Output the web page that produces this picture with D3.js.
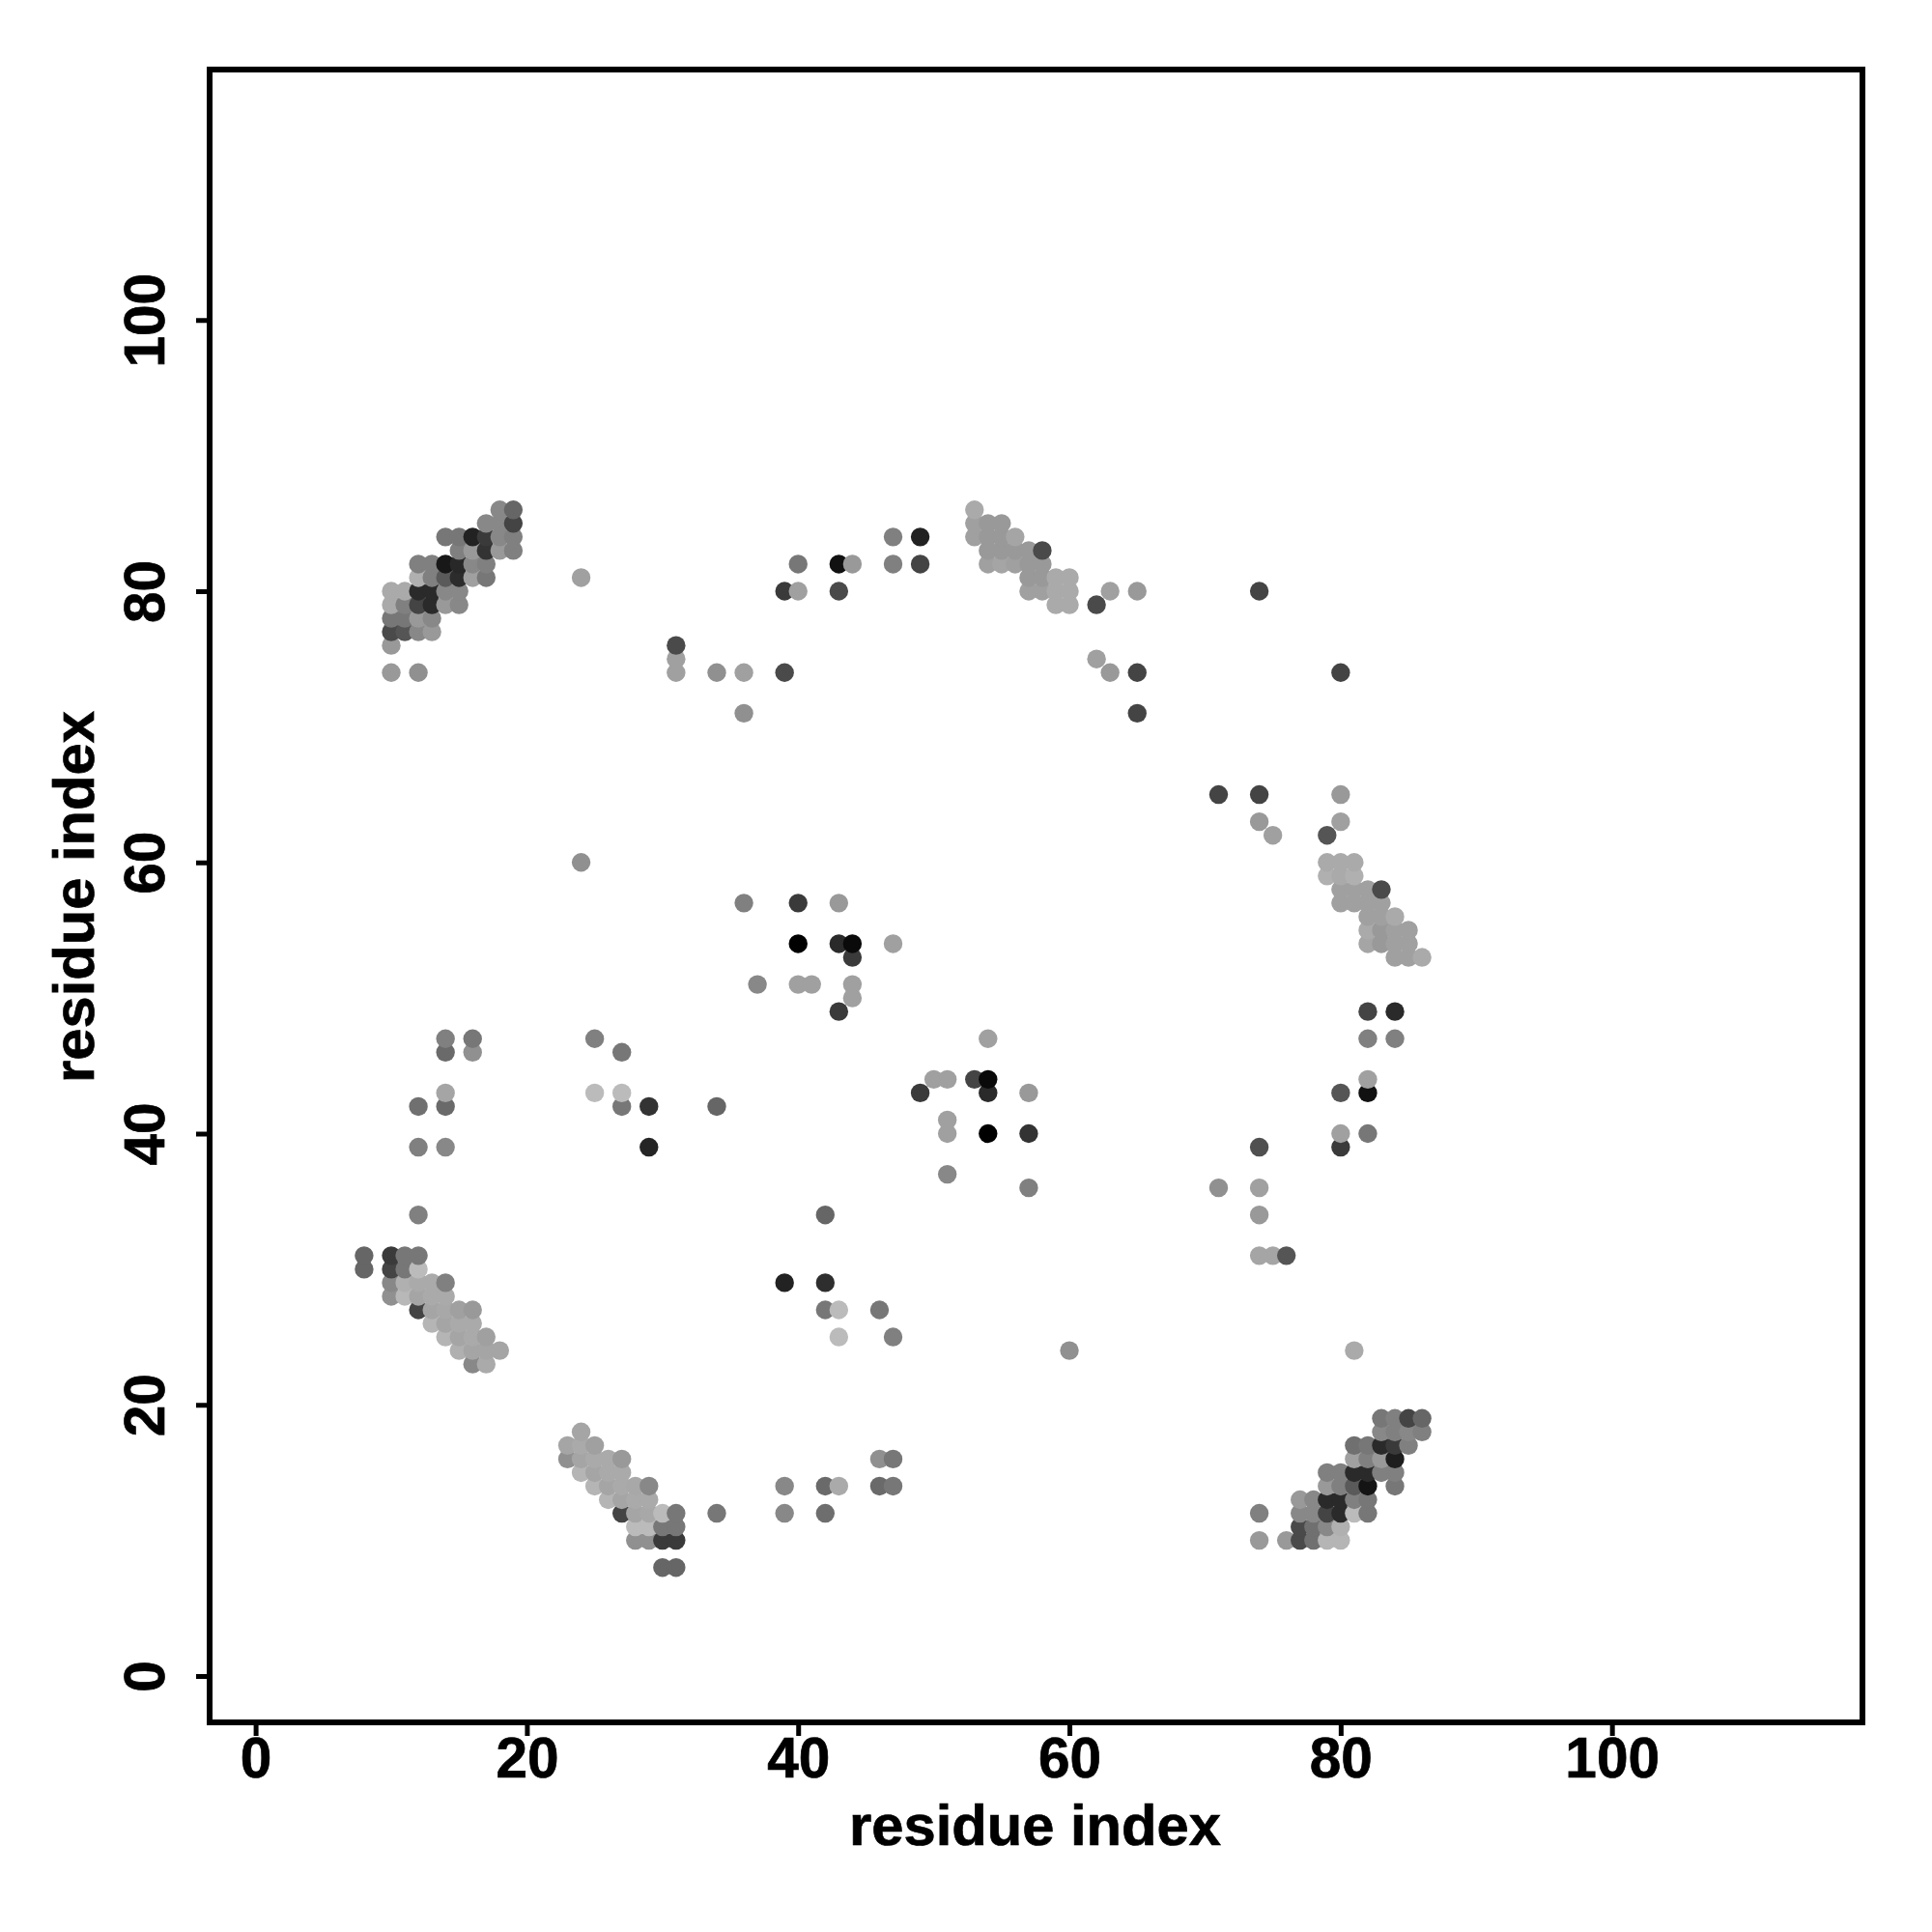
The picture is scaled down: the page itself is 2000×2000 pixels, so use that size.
<!DOCTYPE html>
<html><head><meta charset="utf-8"><script src="https://cdn.jsdelivr.net/npm/d3@7"></script>
<style>html,body{margin:0;padding:0;background:#fff}</style></head><body><script>
// Each contact: [residue i, residue j, shade level (0 black .. 255 white)]
const clusterTopLeft=[[18,86,136],[19,86,102],[17,85,136],[18,85,136],[19,85,68],[14,84,119],[15,84,119],[16,84,34],[17,84,58],[18,84,136],[19,84,128],[15,83,128],[16,83,153],[17,83,51],[18,83,153],[19,83,128],[12,82,128],[13,82,128],[14,82,24],[15,82,40],[16,82,136],[17,82,128],[12,81,176],[13,81,128],[14,81,90],[15,81,44],[16,81,160],[17,81,119],[10,80,170],[11,80,170],[12,80,42],[13,80,42],[14,80,136],[15,80,136],[10,79,170],[11,79,128],[12,79,68],[13,79,42],[14,79,153],[15,79,136],[10,78,119],[11,78,119],[12,78,153],[13,78,136],[10,77,74],[11,77,85],[12,77,136],[13,77,153],[10,76,153],[10,74,153],[12,74,144]];
const clusterBottomRight=[[83,19,119],[84,19,128],[85,19,68],[86,19,102],[83,18,136],[84,18,128],[85,18,136],[86,18,128],[81,17,112],[82,17,119],[83,17,42],[84,17,58],[85,17,128],[81,16,160],[82,16,128],[83,16,153],[84,16,30],[79,15,128],[80,15,128],[81,15,42],[82,15,42],[83,15,128],[84,15,128],[79,14,153],[80,14,128],[81,14,90],[82,14,20],[84,14,119],[77,13,153],[78,13,136],[79,13,42],[80,13,42],[81,13,128],[82,13,119],[77,12,136],[78,12,136],[79,12,68],[80,12,42],[81,12,187],[82,12,119],[77,11,74],[78,11,112],[79,11,136],[80,11,176],[76,10,153],[77,10,74],[78,10,112],[79,10,181],[80,10,181],[74,12,128],[74,10,153]];
const clusterLowerLeft=[[8,31,102],[10,31,58],[11,31,119],[12,31,119],[8,30,102],[10,30,68],[11,30,119],[12,30,187],[10,29,136],[11,29,176],[12,29,170],[13,29,170],[14,29,128],[10,28,144],[11,28,184],[12,28,165],[13,28,170],[14,28,170],[12,27,68],[13,27,165],[14,27,168],[15,27,160],[16,27,153],[13,26,181],[14,26,165],[15,26,170],[16,26,170],[14,25,181],[15,25,165],[16,25,170],[17,25,160],[15,24,176],[16,24,165],[17,24,165],[18,24,165],[16,23,136],[17,23,170]];
const clusterLowerMiddle=[[24,18,165],[23,17,165],[24,17,170],[25,17,160],[23,16,144],[24,16,165],[25,16,170],[26,16,170],[27,16,153],[24,15,181],[25,15,165],[26,15,170],[27,15,170],[25,14,181],[26,14,165],[27,14,170],[28,14,168],[29,14,136],[26,13,181],[27,13,165],[28,13,170],[29,13,170],[27,12,68],[28,12,165],[29,12,168],[30,12,187],[31,12,119],[28,11,187],[29,11,187],[30,11,119],[31,11,119],[28,10,144],[29,10,144],[30,10,58],[31,10,58],[30,8,102],[31,8,102]];
const clusterUpperMiddle=[[53,86,170],[53,85,160],[54,85,153],[55,85,153],[53,84,160],[54,84,153],[55,84,153],[56,84,165],[54,83,153],[55,83,153],[56,83,153],[57,83,153],[58,83,74],[54,82,160],[55,82,165],[56,82,160],[57,82,153],[58,82,153],[57,81,153],[58,81,153],[59,81,170],[60,81,170],[57,80,160],[58,80,160],[59,80,170],[60,80,170],[59,79,170],[60,79,170],[62,79,74],[63,80,160],[65,80,153]];
const clusterRight=[[79,62,85],[79,60,170],[80,60,170],[81,60,170],[79,59,176],[80,59,170],[81,59,176],[80,58,160],[81,58,160],[82,58,160],[83,58,74],[80,57,160],[81,57,160],[82,57,160],[83,57,160],[82,56,160],[83,56,160],[84,56,170],[82,55,170],[83,55,153],[84,55,160],[85,55,160],[82,54,165],[83,54,153],[84,54,160],[85,54,160],[84,53,160],[85,53,160],[86,53,170]];
const scatteredUpper=[[24,81,160],[47,84,128],[49,84,34],[40,82,119],[43,82,17],[44,82,153],[47,82,128],[49,82,68],[39,80,58],[40,80,160],[43,80,74],[31,76,74],[31,75,160],[31,74,160],[34,74,144],[36,74,160],[39,74,74],[36,71,144],[74,80,68],[62,75,160],[63,74,153],[65,74,68],[80,74,68],[65,71,68],[71,65,68],[74,65,68],[80,65,153],[74,63,153],[75,62,160],[80,63,160],[24,60,144]];
const scatteredMiddle=[[36,57,128],[40,57,58],[43,57,153],[40,54,0],[43,54,42],[44,54,10],[44,53,58],[47,54,160],[37,51,136],[40,51,160],[41,51,160],[44,51,160],[44,50,160],[43,49,58],[54,47,160],[50,44,160],[51,44,160],[53,44,68],[54,44,10],[49,43,58],[54,43,42],[57,43,153],[51,41,160],[51,40,160],[54,40,0],[57,40,51],[51,37,136],[57,36,128],[82,49,68],[84,49,42],[82,47,128],[84,47,128],[82,44,160],[80,43,85],[82,43,17],[80,40,160],[82,40,119],[80,39,58]];
const scatteredLeft=[[14,47,128],[16,47,119],[14,46,106],[16,46,144],[14,43,165],[12,42,112],[14,42,106],[12,39,128],[14,39,136],[12,34,128],[25,47,128],[27,46,119],[25,43,187],[27,43,187],[27,42,119],[29,42,51],[34,42,102],[29,39,37]];
const scatteredLower=[[74,39,80],[71,36,144],[74,36,160],[74,34,153],[74,31,165],[75,31,165],[76,31,85],[42,34,102],[39,29,34],[42,29,46],[42,27,119],[43,27,187],[46,27,119],[43,25,187],[47,25,128],[60,24,144],[81,24,170],[46,16,144],[47,16,119],[39,14,136],[42,14,106],[43,14,170],[46,14,106],[47,14,119],[34,12,119],[39,12,136],[42,12,110]];
const tickValues=[0,20,40,60,80,100];
const xTitle="residue index", yTitle="residue index";

const contacts=[...clusterTopLeft,...clusterBottomRight,...clusterLowerLeft,...clusterLowerMiddle,...clusterUpperMiddle,...clusterRight,...scatteredUpper,...scatteredMiddle,...scatteredLeft,...scatteredLower]
  .sort((a,b)=>d3.ascending(a[0],b[0])||d3.ascending(a[1],b[1]));

const L=217,R=1928,T=72,B=1783;
const x=d3.scaleLinear().domain([-3.39,118.47]).range([L,R]);
const y=d3.scaleLinear().domain([-3.42,118.47]).range([B,T]);
const shade=d3.scaleLinear().domain([0,255]).range(["#000","#fff"]);
const font='"Liberation Sans",Arial,sans-serif';

const svg=d3.select("body").append("svg").attr("width",2000).attr("height",2000).style("display","block");
svg.append("rect").attr("width",2000).attr("height",2000).attr("fill","#fff");

svg.append("g").selectAll("circle").data(contacts).join("circle")
  .attr("cx",d=>x(d[0])).attr("cy",d=>y(d[1])).attr("r",9.7).attr("fill",d=>shade(d[2]));

svg.append("rect").attr("x",L).attr("y",T).attr("width",R-L).attr("height",B-T)
  .attr("fill","none").attr("stroke","#000").attr("stroke-width",6);

const gx=svg.append("g").attr("transform",`translate(0,${B})`)
  .call(d3.axisBottom(x).tickValues(tickValues).tickSize(14).tickPadding(8).tickFormat(d3.format("d")));
const gy=svg.append("g").attr("transform",`translate(${L},0)`)
  .call(d3.axisLeft(y).tickValues(tickValues).tickSize(14).tickPadding(8).tickFormat(d3.format("d")));
[gx,gy].forEach(g=>{
  g.select(".domain").remove();
  g.selectAll("line").attr("stroke","#000").attr("stroke-width",5);
  g.selectAll("text").attr("fill","#000").attr("stroke","#000").attr("stroke-width",0.7)
    .style("font-family",font).style("font-weight","bold").style("font-size","58.5px");
});
gx.selectAll("text").attr("y",null).attr("dy",null).attr("transform",null)
  .attr("text-anchor","middle").attr("y",57);
gy.selectAll("text").attr("x",null).attr("dy",null)
  .attr("text-anchor","middle").attr("x",null)
  .attr("transform",function(){return "translate(-47,0) rotate(-90)";});

svg.append("text").attr("x",(L+R)/2-1).attr("y",1910).attr("text-anchor","middle").attr("stroke","#000").attr("stroke-width",0.7)
  .style("font-family",font).style("font-weight","bold").style("font-size","59.7px").text(xTitle);
svg.append("text").attr("transform",`translate(97,${(T+B)/2+1}) rotate(-90)`).attr("text-anchor","middle").attr("stroke","#000").attr("stroke-width",0.7)
  .style("font-family",font).style("font-weight","bold").style("font-size","59.7px").text(yTitle);
</script></body></html>
